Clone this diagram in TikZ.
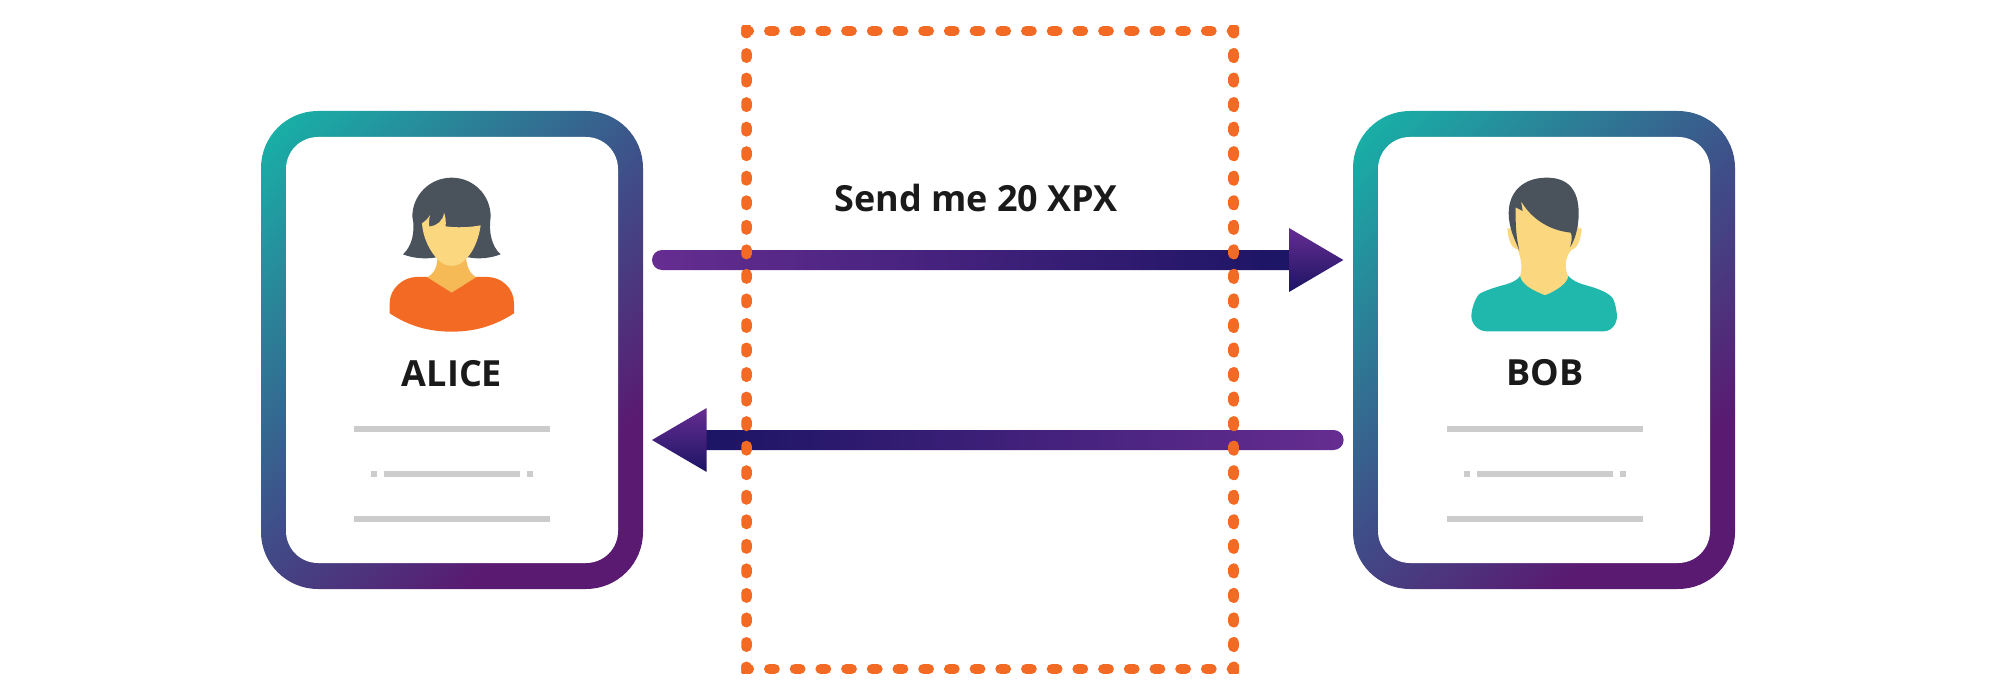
\documentclass[tikz,border=0pt]{standalone}
\usepackage{fontspec}
\setmainfont{Open Sans}
\usetikzlibrary{calc}
\definecolor{cardteal}{HTML}{16B5A8}
\definecolor{cardblue}{HTML}{3F4E88}
\definecolor{cardplum}{HTML}{5A1A72}
\definecolor{arrowlight}{HTML}{662D91}
\definecolor{arrowdark}{HTML}{1B1464}
\definecolor{guardorange}{HTML}{F36A24}
\definecolor{hairgrey}{HTML}{4A525B}
\definecolor{skinlight}{HTML}{FBD87F}
\definecolor{skinneck}{HTML}{F5B955}
\definecolor{shirtteal}{HTML}{20B8AD}
\definecolor{rulegrey}{HTML}{CCCCCC}
\definecolor{inkblack}{HTML}{1A1A1A}
\pgfdeclarehorizontalshading{cardfade}{100bp}{
    color(0bp)=(cardteal); color(15bp)=(cardteal); color(50bp)=(cardblue);
    color(71bp)=(cardplum); color(100bp)=(cardplum)}
\tikzset{
        cardouter/.style={shade, shading=cardfade, shading angle=-45, rounded corners=28.5pt,
            minimum width=191pt, minimum height=239pt, inner sep=0pt},
        cardinner/.style={fill=white, rounded corners=16pt,
            minimum width=166pt, minimum height=213pt, inner sep=0pt},
        cardname/.style={anchor=base, text=inkblack, font=\bfseries\fontsize{18}{18}\selectfont},
        rulebar/.style={fill=rulegrey},
        arrowbody/.style={rounded corners=5pt},
        arrowhead/.style={top color=arrowlight, bottom color=arrowdark},
        guardrow/.style={draw=guardorange, line width=5.3pt, line cap=round,
            dash pattern=on 2.6pt off 10.25pt},
        guardcol/.style={draw=guardorange, line width=5.4pt, line cap=round,
            dash pattern=on 2.1pt off 10.17pt},
    }
\begin{document}
\begin{tikzpicture}[x=0.5pt, y=-0.5pt]
                \useasboundingbox (0,0) rectangle (2000,700);
                \foreach \name/\cx in {alice/452, bob/1544}
                {
                    \node[cardouter] (\name card) at (\cx,350) {};
                    \node[cardinner] (\name inner) at (\name card.center) {};
                }
                \foreach \cx in {452,1545}
                {
                    \path[rulebar] (\cx-98,426) rectangle (\cx+98,432);
                    \path[rulebar] (\cx-81,471) rectangle (\cx-75,477);
                    \path[rulebar] (\cx-68,471) rectangle (\cx+68,477);
                    \path[rulebar] (\cx+75,471) rectangle (\cx+81,477);
                    \path[rulebar] (\cx-98,516) rectangle (\cx+98,522);
                }
                \begin{scope}[shift={(240,100)}, scale=1/3]
                    \fill[hairgrey] (489,463) .. controls (515,440) and (527,395) .. (517,350)
                        .. controls (517,285) and (570,233) .. (635,233)
                        .. controls (700,233) and (752,285) .. (752,350)
                        .. controls (745,395) and (755,440) .. (782,463)
                        .. controls (750,475) and (715,478) .. (686,472)
                        -- (590,472) .. controls (555,478) and (520,475) .. (489,463) -- cycle;
                    \fill[skinneck] (593,465) .. controls (593,495) and (585,522) .. (560,532)
                        -- (635,578) -- (710,532) .. controls (688,522) and (678,495) .. (678,465) -- cycle;
                    \fill[skinlight] (546,370) .. controls (555,364) and (565,355) .. (570,345)
                        .. controls (567,358) and (566,370) .. (568,380)
                        .. controls (590,378) and (610,362) .. (612,338)
                        .. controls (617,350) and (618,365) .. (617,379)
                        .. controls (650,384) and (690,382) .. (722,376)
                        .. controls (715,425) and (695,465) .. (670,484)
                        .. controls (650,502) and (620,502) .. (600,484)
                        .. controls (570,460) and (548,410) .. (546,370) -- cycle;
                    \fill[guardorange] (449,640) -- (449,610) .. controls (449,565) and (490,531) .. (530,531)
                        -- (560,531) -- (635,578) -- (710,531) -- (742,531)
                        .. controls (785,531) and (822,565) .. (822,610) -- (822,640)
                        .. controls (760,680) and (700,695) .. (635,695)
                        .. controls (570,695) and (510,680) .. (449,640) -- cycle;
                \end{scope}
                \begin{scope}[shift={(1340,100)}, scale=1/3]
                    \fill[skinlight] (502,385) .. controls (504,410) and (510,445) .. (533,448)
                        .. controls (540,470) and (550,495) .. (540,530)
                        .. controls (545,558) and (580,576) .. (615,592)
                        .. controls (650,576) and (683,552) .. (685,530)
                        .. controls (670,500) and (678,465) .. (696,448)
                        .. controls (715,445) and (724,410) .. (725,385)
                        -- (716,385) -- (680,260) -- (540,260) -- (512,385) -- cycle;
                    \fill[shirtteal] (540,528) .. controls (530,545) and (500,553) .. (480,558)
                        .. controls (460,564) and (430,574) .. (418,582)
                        .. controls (405,595) and (395,625) .. (394,648)
                        .. controls (394,672) and (415,694) .. (440,694) -- (790,694)
                        .. controls (815,694) and (832,672) .. (831,645)
                        .. controls (828,625) and (825,605) .. (818,595)
                        .. controls (805,575) and (760,562) .. (735,555)
                        .. controls (715,550) and (695,540) .. (685,528)
                        .. controls (683,550) and (650,572) .. (615,586)
                        .. controls (580,572) and (545,555) .. (540,528) -- cycle;
                    \fill[hairgrey] (538,452) .. controls (525,420) and (506,385) .. (506,340)
                        .. controls (506,275) and (550,233) .. (620,233)
                        .. controls (685,233) and (716,270) .. (716,340)
                        .. controls (716,385) and (703,425) .. (690,441)
                        .. controls (695,425) and (698,410) .. (692,398)
                        .. controls (620,390) and (570,350) .. (543,303)
                        -- (548,333) -- (527,322) .. controls (526,370) and (528,410) .. (538,452) -- cycle;
                \end{scope}
                \node[cardname] (alicename) at (452,386) {ALICE};
                \node[cardname] (bobname) at (1545,385.5) {BOB};
                \node[cardname] (sendlabel) at (976,212) {Send me 20 XPX};
                \coordinate (sendtail) at (652,260);
                \coordinate (sendbase) at (1289,260);
                \coordinate (sendtip) at (1343.4,260);
                \coordinate (replytail) at (1343.6,440);
                \coordinate (replybase) at (706.7,440);
                \coordinate (replytip) at (652,440);
                \shade[arrowbody, left color=arrowlight, right color=arrowdark]
                    ($(sendtail)+(0,-10)$) rectangle ($(sendbase)+(10,10)$);
                \shade[arrowhead] ($(sendbase)+(0,-32)$) -- (sendtip) -- ($(sendbase)+(0,32)$) -- cycle;
                \shade[arrowbody, left color=arrowdark, right color=arrowlight]
                    ($(replybase)+(-10,-10)$) rectangle ($(replytail)+(0,10)$);
                \shade[arrowhead] ($(replybase)+(0,-32)$) -- (replytip) -- ($(replybase)+(0,32)$) -- cycle;
                \begin{scope}
                    \clip (741.3,26) rectangle (1239,673.7);
                    \path[guardrow] (743.6,31) -- (1245,31);
                    \path[guardrow] (743.6,668.8) -- (1245,668.8);
                    \path[guardcol] (746.4,28.9) -- (746.4,680);
                    \path[guardcol] (1233.8,28.9) -- (1233.8,680);
                \end{scope}
            \end{tikzpicture}
\end{document}
